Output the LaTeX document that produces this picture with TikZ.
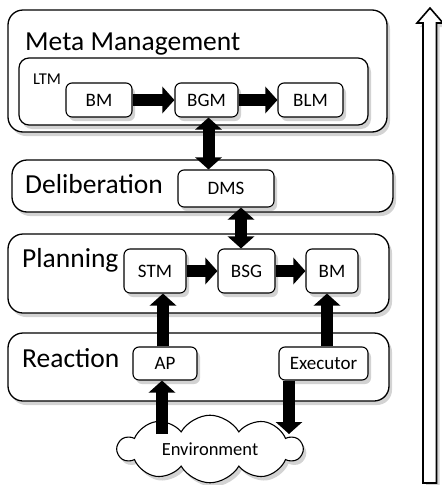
\documentclass[tikz,border=0pt]{standalone}
\usepackage{fontspec}
\setmainfont{Carlito}
\usetikzlibrary{arrows.meta,shapes.symbols,shadows}
\begin{document}
\begin{tikzpicture}[x=1pt,y=-1pt,
  shad/.style={drop shadow={shadow xshift=3pt,shadow yshift=-4pt,opacity=0.35}},
  layer/.style={draw,line width=1.3pt,rounded corners=15pt,fill=white,shad,inner sep=0pt},
  ltmbox/.style={draw,line width=1.2pt,rounded corners=10pt,fill=white,shad,inner sep=0pt},
  box/.style={draw,line width=1.1pt,rounded corners=6pt,fill=white,shad,inner sep=0pt,font=\fontsize{19}{21}\selectfont},
  title/.style={anchor=base west,inner sep=0pt,font=\fontsize{27.5}{30}\selectfont},
  fat/.style={line width=12pt,-{Triangle[width=26pt,length=12pt]}},
  fatboth/.style={line width=12pt,{Triangle[width=26pt,length=12pt]}-{Triangle[width=26pt,length=12pt]}},
]
\useasboundingbox (0,0) rectangle (442,485);

% Meta management
\node[layer,minimum width=379pt,minimum height=122pt] (meta) at (197.5,71) {};
\node[title] (metalbl) at (25,50) {Meta Management};
\node[ltmbox,minimum width=349pt,minimum height=67pt] (ltm) at (193.5,91.5) {};
\node[anchor=base west,inner sep=0pt,font=\fontsize{16.5}{18}\selectfont] (ltmlbl) at (33,84) {LTM};
\node[box,minimum width=66pt,minimum height=34pt] (bm1) at (99,100) {BM};
\node[box,minimum width=63pt,minimum height=34pt] (bgm) at (206.5,100) {BGM};
\node[box,minimum width=65pt,minimum height=34pt] (blm) at (310.5,100) {BLM};

% Deliberation
\node[layer,minimum width=381pt,minimum height=52pt] (delib) at (202.5,186) {};
\node[title] (dellbl) at (25,193) {Deliberation};
\node[box,minimum width=96pt,minimum height=37pt] (dms) at (226,188.5) {DMS};

% Planning
\node[layer,minimum width=381pt,minimum height=79pt] (plan) at (198.5,273.5) {};
\node[title] (planlbl) at (22,267) {Planning};
\node[box,minimum width=62pt,minimum height=44pt] (stm) at (155,271) {STM};
\node[box,minimum width=57pt,minimum height=44pt] (bsg) at (246.5,271) {BSG};
\node[box,minimum width=52pt,minimum height=44pt] (bm2) at (332,271) {BM};

% Reaction
\node[layer,minimum width=381pt,minimum height=68pt] (react) at (198.5,367) {};
\node[title] (reactlbl) at (22,367) {Reaction};
\node[box,minimum width=64pt,minimum height=33pt] (ap) at (165,363.5) {AP};
\node[box,minimum width=89pt,minimum height=33pt] (exe) at (323.5,363.5) {Executor};

% Environment
\node[cloud,draw,line width=1.1pt,fill=white,shad,cloud puffs=10,cloud puff arc=120,aspect=3,
      minimum width=184pt,minimum height=62pt,inner sep=0pt,font=\fontsize{18.5}{20}\selectfont] (env) at (210,449) {Environment};

% connectors
\draw[fat] (bm1) -- (bgm);
\draw[fat] (bgm) -- (blm);
\draw[fatboth] ([xshift=2pt]bgm.south) -- ([xshift=2pt]bgm.south |- dms.north);
\draw[fatboth] ([xshift=-5.5pt]bsg.north) -- ([xshift=-5.5pt]bsg.north |- dms.south);
\draw[fat] (stm) -- (bsg);
\draw[fat] (bsg) -- (bm2);
\draw[fat] ([xshift=-2pt]ap.north) -- ([xshift=-2pt]ap.north |- stm.south);
\draw[fat] ([xshift=3.5pt]exe.north) -- ([xshift=3.5pt]exe.north |- bm2.south);
\coordinate (envin) at (289,434);
\coordinate (envout) at (162,434);
\draw[fat] (exe.south -| envin) -- (envin);
\draw[fat] (envout) -- (envout |- ap.south);

% hollow arrow at right
\draw[line width=1.6pt,fill=white,shad,line join=miter] (423,483) -- (423,23) -- (417,23) -- (430,8) -- (443,23) -- (436.5,23) -- (436.5,483) -- cycle;
\end{tikzpicture}
\end{document}
